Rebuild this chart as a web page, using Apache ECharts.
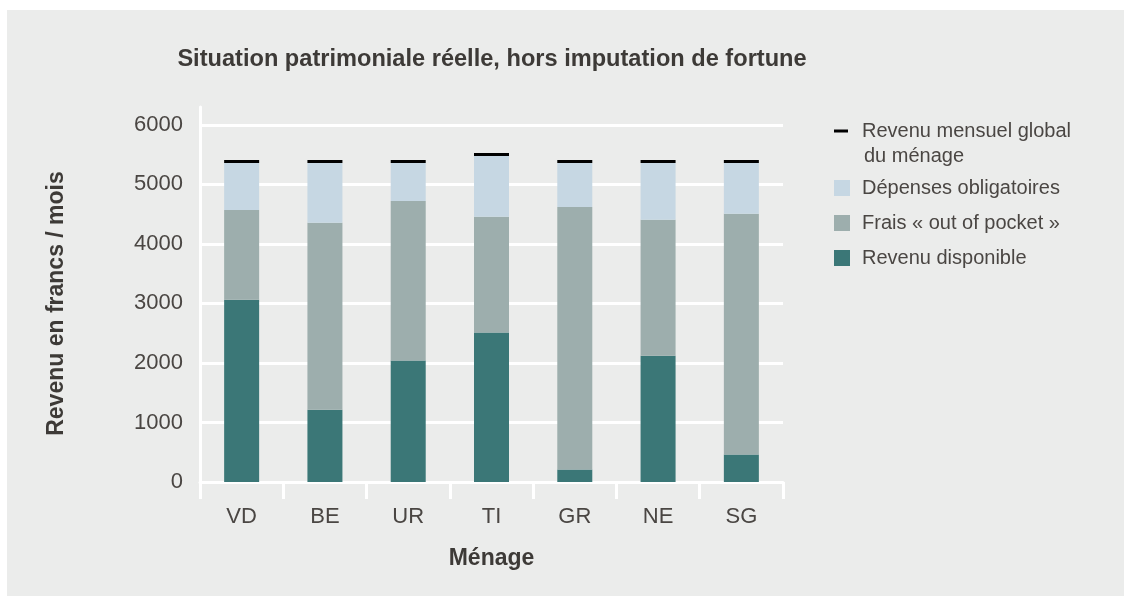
<!DOCTYPE html>
<html lang="fr">
<head>
    <meta charset="UTF-8">
    <title>Situation patrimoniale réelle</title>
    <script src="https://cdn.jsdelivr.net/npm/echarts@6/dist/echarts.min.js"></script>
    <style>
        html, body { margin: 0; padding: 0; background: #fff; }
        #main { position: absolute; left: 7px; top: 10px; width: 1117px; height: 586px; }
    </style>
</head>
<body>
<div id="main"></div>
<script>
    // ménages (cantons)
    var menages = ['VD', 'BE', 'UR', 'TI', 'GR', 'NE', 'SG'];
    // segments empilés, de bas en haut
    var revenuDisponible = [3060, 1215, 2040, 2510, 210, 2120, 460];
    var fraisOutOfPocket = [1510, 3140, 2680, 1945, 4410, 2285, 4045];
    var depensesOblig = [790, 1005, 640, 1025, 740, 955, 855];
    // revenu mensuel global (trait noir)
    var revenuGlobal = [5385, 5385, 5385, 5500, 5385, 5385, 5385];

    var font = 'Liberation Sans';
    var txt = '#3d3a37';

    var myChart = echarts.init(document.getElementById('main'));

    var option = {
        backgroundColor: '#ebeceb',
        animation: false,
        title: {
            text: 'Situation patrimoniale réelle, hors imputation de fortune',
            left: 480,
            textAlign: 'center',
            top: 32,
            textStyle: { fontFamily: font, fontSize: 23.6, fontWeight: 'bold', color: txt }
        },
        legend: [
            {
                orient: 'vertical',
                left: 822,
                top: 106,
                itemWidth: 14,
                itemHeight: 3,
                icon: 'rect',
                data: ['Revenu mensuel global'],
                textStyle: { fontFamily: font, fontSize: 20, color: '#4a4643', padding: [0, 0, 0, 9] }
            },
            {
                orient: 'vertical',
                left: 822,
                top: 163,
                itemWidth: 16,
                itemHeight: 16,
                itemGap: 15,
                icon: 'rect',
                data: ['Dépenses obligatoires', 'Frais « out of pocket »', 'Revenu disponible'],
                textStyle: { fontFamily: font, fontSize: 20, color: '#4a4643', padding: [0, 0, 0, 7] }
            }
        ],
        graphic: [
            {
                type: 'text',
                left: 857,
                top: 136,
                style: { text: 'du ménage', font: '20px "Liberation Sans"', fill: '#4a4643' }
            }
        ],
        grid: { left: 193, right: 341, top: 97, bottom: 114 },
        xAxis: {
            type: 'category',
            data: menages,
            name: 'Ménage',
            nameLocation: 'middle',
            nameGap: 65,
            nameTextStyle: { fontFamily: font, fontSize: 23, fontWeight: 'bold', color: txt },
            axisLine: { lineStyle: { color: '#fff', width: 3 } },
            axisTick: { show: true, length: 17, lineStyle: { color: '#fff', width: 3 } },
            axisLabel: { margin: 24, fontFamily: font, fontSize: 22, color: '#4a4643' }
        },
        yAxis: {
            type: 'value',
            min: 0,
            max: 6300,
            interval: 1000,
            name: 'Revenu en francs / mois',
            nameLocation: 'middle',
            nameGap: 132,
            nameTextStyle: { fontFamily: font, fontSize: 23, fontWeight: 'bold', color: txt, padding: [0, 18, 0, 0] },
            axisLine: { show: true, lineStyle: { color: '#fff', width: 3 } },
            axisTick: { show: false },
            axisLabel: {
                margin: 17, fontFamily: font, fontSize: 22, color: '#4a4643', showMaxLabel: false,
                formatter: function (v) { return String(v); }
            },
            splitLine: { showMaxLine: false, lineStyle: { color: '#fff', width: 3 } }
        },
        series: [
            {
                name: 'Revenu disponible',
                type: 'bar',
                stack: 'total',
                barWidth: 35,
                data: revenuDisponible,
                itemStyle: { color: '#3b7777' }
            },
            {
                name: 'Frais « out of pocket »',
                type: 'bar',
                stack: 'total',
                barWidth: 35,
                data: fraisOutOfPocket,
                itemStyle: { color: '#9daead' }
            },
            {
                name: 'Dépenses obligatoires',
                type: 'bar',
                stack: 'total',
                barWidth: 35,
                data: depensesOblig,
                itemStyle: { color: '#c6d7e3' }
            },
            {
                name: 'Revenu mensuel global',
                type: 'scatter',
                symbol: 'rect',
                symbolSize: [35, 3],
                data: revenuGlobal,
                itemStyle: { color: '#000', opacity: 1 },
                z: 5
            }
        ]
    };
    myChart.setOption(option);
</script>
</body>
</html>
